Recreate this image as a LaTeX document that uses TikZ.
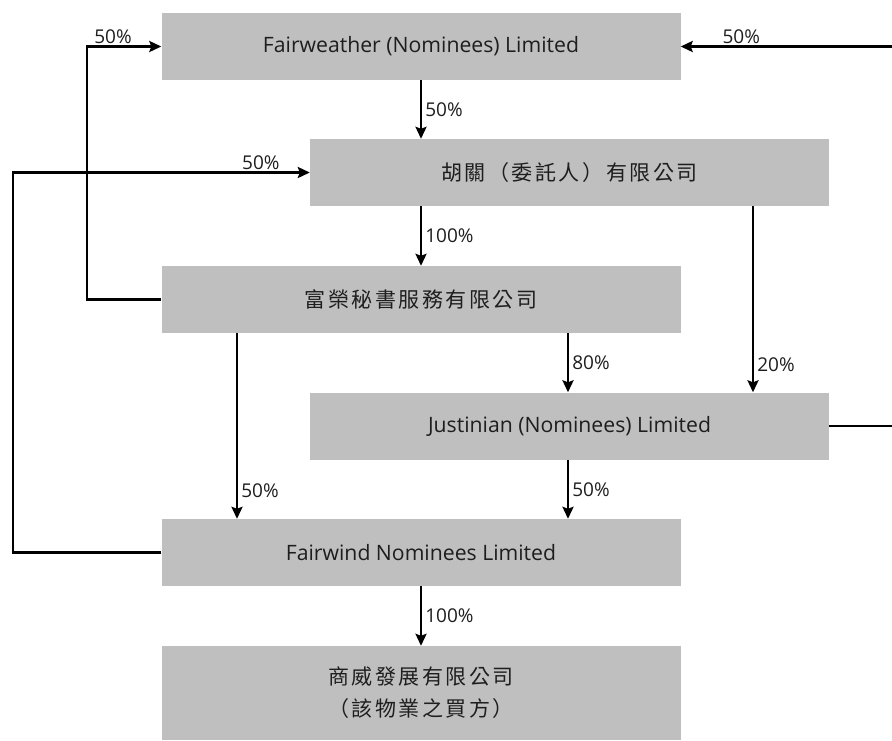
\documentclass[tikz,border=0pt]{standalone}
\usepackage{fontspec}
\setmainfont{Open Sans}
\newfontfamily\cjk[LetterSpace=12]{Noto Sans CJK TC}
\usetikzlibrary{arrows.meta}
\definecolor{boxgray}{HTML}{BFBFBF}
\definecolor{txt}{HTML}{1E1E1E}
\begin{document}
\begin{tikzpicture}[x=1pt,y=-1pt,
  box/.style={fill=boxgray, draw=none, minimum width=519pt, minimum height=67pt, inner sep=0pt, text=txt, font=\fontsize{21.2}{25}\selectfont},
  cjkbox/.style={box, font=\cjk\fontsize{21}{32}\selectfont, align=center},
  conn/.style={line width=2.6pt, -{Stealth[length=12pt,width=11pt,inset=2pt]}},
  plainln/.style={line width=2.6pt},
  lbl/.style={font=\fontsize{19}{22}\selectfont, inner sep=1pt, text=txt}
]
\useasboundingbox (0,0) rectangle (892,740);
\clip (0,0) rectangle (892,740);

\node[box] (fw) at (421,46.5) {Fairweather (Nominees) Limited};
\node[cjkbox] (hg) at (569.5,172.5) {胡關（委託人）有限公司};
\node[cjkbox] (fy) at (421,299.5) {富榮秘書服務有限公司};
\node[box] (jus) at (569.5,426) {Justinian (Nominees) Limited};
\node[box] (fwind) at (421,552.5) {Fairwind Nominees Limited};
\node[cjkbox, minimum height=94pt] (sw) at (421,693) {商威發展有限公司\\（該物業之買方）};

% helper coordinates
\coordinate (a2) at (568,0);   % x of 80% / Justinian-down axis
\coordinate (a3) at (753,0);   % x of 20% axis
\coordinate (a4) at (237,0);   % x of fy -> fwind axis
\coordinate (l1) at (87,299.5);
\coordinate (l2) at (87,46.5);
\coordinate (o1) at (13,552.5);
\coordinate (o2) at (13,172.5);
\coordinate (r1) at (905,426);
\coordinate (r2) at (905,46.5);

% vertical arrows
\draw[conn] (fw.south) -- node[lbl, right=2pt] {50\%} (hg.north -| fw.south);
\draw[conn] (hg.south -| fw.south) -- node[lbl, right=2pt] {100\%} (fy.north);
\draw[conn] (hg.south -| a3) -- node[lbl, right=2pt, pos=0.85] {20\%} (jus.north -| a3);
\draw[conn] (fy.south -| a2) -- node[lbl, right=2pt] {80\%} (jus.north -| a2);
\draw[conn] (fy.south -| a4) -- node[lbl, right=2pt, pos=0.85] {50\%} (fwind.north -| a4);
\draw[conn] (jus.south -| a2) -- node[lbl, right=2pt] {50\%} (fwind.north -| a2);
\draw[conn] (fwind.south) -- node[lbl, right=2pt] {100\%} (sw.north);

% side connectors
\draw[conn] (fy.west) -- (l1) -- (l2) -- node[lbl, above=1pt, pos=0.35] {50\%} (fw.west);
\draw[conn] (fwind.west) -- (o1) -- (o2) -- node[lbl, above=1pt, pos=0.835] {50\%} (hg.west);
\draw[plainln] (jus.east) -- (r1) -- (r2);
\draw[conn] (r2) -- node[lbl, above=1pt, pos=0.73] {50\%} (fw.east);
\end{tikzpicture}
\end{document}
